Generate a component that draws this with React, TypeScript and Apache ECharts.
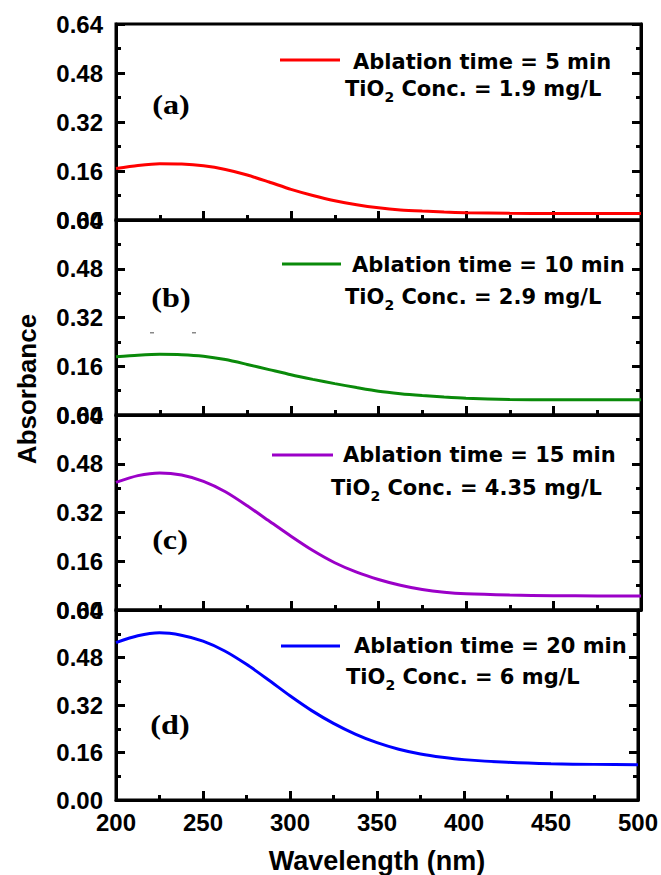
import React, { useEffect, useRef } from "react";
import * as echarts from "echarts";

const wavelengths = [200, 212.5, 225, 237.5, 250, 262.5, 275, 287.5, 300, 312.5, 325, 337.5, 350, 362.5, 375, 387.5, 400, 425, 450, 475, 500];
const absA = [0.168, 0.178, 0.184, 0.183, 0.177, 0.165, 0.147, 0.124, 0.100, 0.080, 0.063, 0.050, 0.040, 0.033, 0.029, 0.026, 0.024, 0.022, 0.021, 0.021, 0.021];
const absB = [0.191, 0.196, 0.199, 0.198, 0.193, 0.182, 0.166, 0.149, 0.132, 0.117, 0.103, 0.090, 0.078, 0.070, 0.064, 0.059, 0.055, 0.051, 0.050, 0.050, 0.050];
const absC = [0.419, 0.441, 0.450, 0.443, 0.422, 0.388, 0.342, 0.292, 0.242, 0.195, 0.155, 0.124, 0.100, 0.081, 0.067, 0.058, 0.053, 0.049, 0.047, 0.046, 0.046];
const absD = [0.530, 0.553, 0.563, 0.555, 0.535, 0.502, 0.457, 0.405, 0.351, 0.301, 0.258, 0.222, 0.193, 0.171, 0.155, 0.144, 0.136, 0.127, 0.122, 0.120, 0.119];

const panelLabels = ["(a)", "(b)", "(c)", "(d)"];
const timeLabels = ["Ablation time = 5 min", "Ablation time = 10 min", "Ablation time = 15 min", "Ablation time = 20 min"];
const concValues = ["1.9", "2.9", "4.35", "6"];
const colors = ["#ff0000", "#0a8a0a", "#9b00c8", "#0000ff"];
const yTicks = [0, 0.16, 0.32, 0.48, 0.64];
const xTicks = [200, 250, 300, 350, 400, 450, 500];

const SANS = "DejaVu Sans";
const ARIAL = "Liberation Sans";
const TICK = "#000";

function measure(text: string, size: number): number {
  const c = document.createElement("canvas").getContext("2d");
  if (!c) return text.length * size * 0.6;
  c.font = `bold ${size}px "${SANS}"`;
  return c.measureText(text).width;
}

export default function App() {
  const ref = useRef<HTMLDivElement>(null);
  useEffect(() => {
    if (!ref.current) return;
    const chart = echarts.init(ref.current, undefined, { renderer: "svg" });
    const series = [absA, absB, absC, absD];
    const tops = [24, 220, 415, 610];
    const bottoms = [220, 415, 610, 803];
    const left = 116;
    const right = 641;

    const grids = tops.map((t, i) => ({
      left,
      top: t,
      width: right - left,
      height: bottoms[i] - t,
      show: true,
      borderColor: "#000",
      borderWidth: 3,
      backgroundColor: "transparent",
    }));

    const xAxes = tops.map((_, i) => ({
      type: "value",
      gridIndex: i,
      min: xTicks[0],
      max: xTicks[xTicks.length - 1],
      interval: 50,
      axisLine: { show: true, onZero: false, lineStyle: { color: "#000", width: 3 } },
      axisTick: { show: true, inside: true, length: 9, lineStyle: { color: TICK, width: 3 } },
      minorTick: { show: true, splitNumber: 2, length: 5, lineStyle: { color: TICK, width: 3 } },
      splitLine: { show: false },
      axisLabel: {
        show: i === 3,
        color: "#000",
        fontFamily: ARIAL,
        fontWeight: "bold",
        fontSize: 24,
        margin: 10,
      },
      name: i === 3 ? "Wavelength (nm)" : "",
      nameLocation: "middle",
      nameGap: 47,
      nameTextStyle: { color: "#000", fontFamily: ARIAL, fontWeight: "bold", fontSize: 27 },
    }));

    const yAxes: any[] = [];
    tops.forEach((_, i) => {
      const base = {
        type: "value",
        gridIndex: i,
        min: yTicks[0],
        max: yTicks[yTicks.length - 1],
        interval: 0.16,
        axisLine: { show: true, onZero: false, lineStyle: { color: "#000", width: 3 } },
        axisTick: { show: true, inside: true, length: 9, lineStyle: { color: TICK, width: 3 } },
        minorTick: { show: true, splitNumber: 2, length: 5, lineStyle: { color: TICK, width: 3 } },
        splitLine: { show: false },
      };
      yAxes.push({
        ...base,
        position: "left",
        axisLabel: {
          show: true,
          color: "#000",
          fontFamily: ARIAL,
          fontWeight: "bold",
          fontSize: 24,
          margin: 13,
          formatter: (v: number) => v.toFixed(2),
        },
      });
      yAxes.push({ ...base, position: "right", axisLabel: { show: false } });
    });

    const seriesOpts = series.map((arr, i) => ({
      type: "line",
      name: timeLabels[i],
      xAxisIndex: i,
      yAxisIndex: i * 2,
      data: wavelengths.map((w, k) => [w, arr[k]]),
      showSymbol: false,
      smooth: 0.25,
      lineStyle: { color: colors[i], width: 3 },
      itemStyle: { color: colors[i] },
    }));

    const legendPos = [
      { lx1: 280, lx2: 340, ly: 60, tx: 353, ty: 62, cx: 345, cy: 89 },
      { lx1: 282, lx2: 341, ly: 264, tx: 352, ty: 265, cx: 345, cy: 297 },
      { lx1: 272, lx2: 333, ly: 455, tx: 343, ty: 455, cx: 331, cy: 488 },
      { lx1: 281, lx2: 340, ly: 646, tx: 354, ty: 646, cx: 346, cy: 677 },
    ];
    const labelPos = [
      { x: 171, y: 105 },
      { x: 171, y: 298 },
      { x: 170, y: 540 },
      { x: 170, y: 725 },
    ];

    const FS = 21;
    const graphics: any[] = [];
    legendPos.forEach((p, i) => {
      graphics.push({
        type: "line",
        shape: { x1: p.lx1, y1: p.ly, x2: p.lx2, y2: p.ly },
        style: { stroke: colors[i], lineWidth: 3 },
      });
      graphics.push({
        type: "text",
        x: p.tx,
        y: p.ty,
        style: {
          text: timeLabels[i],
          fill: "#000",
          font: `bold ${FS}px "${SANS}"`,
          align: "left",
          verticalAlign: "middle",
        },
      });
      const w1 = measure("TiO", FS);
      const w2 = measure("2", 14);
      graphics.push({
        type: "text",
        x: p.cx,
        y: p.cy,
        style: { text: "TiO", fill: "#000", font: `bold ${FS}px "${SANS}"`, align: "left", verticalAlign: "middle" },
      });
      graphics.push({
        type: "text",
        x: p.cx + w1,
        y: p.cy + 8,
        style: { text: "2", fill: "#000", font: `bold 14px "${SANS}"`, align: "left", verticalAlign: "middle" },
      });
      graphics.push({
        type: "text",
        x: p.cx + w1 + w2,
        y: p.cy,
        style: {
          text: ` Conc. = ${concValues[i]} mg/L`,
          fill: "#000",
          font: `bold ${FS}px "${SANS}"`,
          align: "left",
          verticalAlign: "middle",
        },
      });
      graphics.push({
        type: "text",
        x: labelPos[i].x,
        y: labelPos[i].y,
        scaleX: 1.15,
        style: {
          text: panelLabels[i],
          fill: "#000",
          font: `bold 28px "Liberation Serif"`,
          align: "center",
          verticalAlign: "middle",
        },
      });
    });
    graphics.push({
      type: "text",
      x: 27,
      y: 389,
      rotation: Math.PI / 2,
      style: {
        text: "Absorbance",
        fill: "#000",
        font: `bold 26px "${ARIAL}"`,
        align: "center",
        verticalAlign: "middle",
      },
    });
    graphics.push({ type: "rect", shape: { x: 150, y: 332, width: 4, height: 1.5 }, style: { fill: "#888" } });
    graphics.push({ type: "rect", shape: { x: 192, y: 332, width: 4, height: 1.5 }, style: { fill: "#888" } });

    chart.setOption({
      animation: false,
      backgroundColor: "#fff",
      grid: grids,
      xAxis: xAxes,
      yAxis: yAxes,
      series: seriesOpts,
      graphic: graphics,
    });
    return () => chart.dispose();
  }, []);
  return <div ref={ref} style={{ width: 661, height: 875, position: "absolute", left: 0, top: 0 }} />;
}
